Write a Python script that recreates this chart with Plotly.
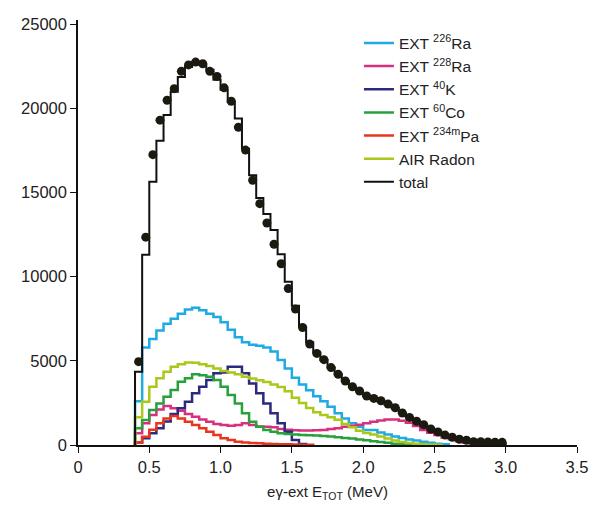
import numpy as np
import plotly.graph_objects as go

# Binning: 0.05 MeV bins starting at 0.40 MeV
bin_start = 0.40
bin_width = 0.05

total_mc = [4350, 11300, 15640, 18070, 19600, 20980, 21870, 22460, 22750, 22600,
            22300, 21700, 21100, 20400, 19400, 17600, 16030, 14680, 13720, 12770,
            11340, 9700, 8270, 7020, 6100, 5500, 5050, 4600, 4200, 3800,
            3450, 3200, 2900, 2750, 2600, 2400, 2200, 1900, 1650, 1400,
            1150, 950, 760, 590, 450, 330, 250, 180, 150, 120, 100, 80]

data_points = [4950, 12350, 17250, 19300, 20480, 21170, 22200, 22580, 22750, 22650,
               22200, 21900, 21220, 20420, 18880, 17520, 15730, 14340, 13190, 11930,
               10770, 9300, 8080, 6980, 6000, 5440, 5070, 4600, 4200, 3800,
               3460, 3210, 2910, 2770, 2630, 2430, 2210, 1900, 1640, 1410,
               1200, 950, 770, 590, 460, 340, 280, 200, 190, 180, 170, 160]

ra226 = [2600, 5800, 6300, 6800, 7200, 7500, 7800, 8050, 8150, 8000,
         7800, 7600, 7300, 6850, 6400, 6100, 5950, 5900, 5800, 5550,
         5050, 4550, 4000, 3600, 3250, 2900, 2600, 2270, 1880, 1580,
         1290, 1090, 890, 890, 750, 620, 500, 420, 330, 260,
         190, 130, 80, 40]

ra228 = [700, 1290, 1780, 2110, 2320, 2180, 2040, 1840, 1680, 1520,
         1380, 1250, 1190, 1150, 1190, 1290, 1190, 1100, 1090, 1050,
         950, 900, 870, 860, 860, 870, 890, 950, 1000, 1090,
         1150, 1200, 1290, 1380, 1450, 1520, 1520, 1440, 1320, 1130,
         890, 730, 590, 450, 340, 220, 140, 80, 40, 20]

k40 = [150, 400, 700, 1000, 1400, 1840, 2180, 2570, 3070, 3460,
       3860, 4260, 4300, 4650, 4650, 4260, 3660, 3070, 2470, 1880,
       1290, 790, 300, 60]

co60 = [1000, 1480, 2080, 2470, 2870, 3270, 3760, 3960, 4200, 4150,
        4060, 3860, 3460, 2970, 2470, 1880, 1380, 1090, 890, 790,
        700, 650, 620, 600, 580, 560, 540, 500, 460, 420,
        380, 330, 280, 230, 180, 130, 80, 40, 20]

pa234m = [150, 490, 900, 1290, 1580, 1720, 1580, 1380, 1190, 990,
          790, 590, 400, 300, 200, 150, 120, 100, 80, 60,
          50, 40, 30, 20, 10]

air_radon = [1650, 2570, 3460, 3960, 4350, 4650, 4800, 4900, 4880, 4800,
             4700, 4550, 4400, 4300, 4200, 4050, 3950, 3850, 3750, 3600,
             3450, 3200, 2800, 2500, 2200, 1950, 1780, 1650, 1500, 1250,
             1050, 850, 720, 620, 500, 380, 270, 180, 120, 80,
             50, 30, 10]

series = [
    ("EXT <sup>226</sup>Ra", ra226, "#1eaae2"),
    ("EXT <sup>228</sup>Ra", ra228, "#d6307f"),
    ("EXT <sup>40</sup>K", k40, "#2b2a7e"),
    ("EXT <sup>60</sup>Co", co60, "#28a03c"),
    ("EXT <sup>234m</sup>Pa", pa234m, "#e8351d"),
    ("AIR Radon", air_radon, "#a8c81a"),
]

x_ticks = [0, 0.5, 1.0, 1.5, 2.0, 2.5, 3.0, 3.5]
x_ticktext = ["0", "0.5", "1.0", "1.5", "2.0", "2.5", "3.0", "3.5"]
y_ticks = [0, 5000, 10000, 15000, 20000, 25000]


def step_xy(vals):
    n = len(vals)
    edges = bin_start + bin_width * np.arange(n + 1)
    xs = [edges[0]] + list(edges[:n]) + [edges[n]]
    ys = [0] + list(vals) + [0]
    return xs, ys


fig = go.Figure()
for name, vals, color in series:
    xs, ys = step_xy(vals)
    fig.add_trace(go.Scatter(x=xs, y=ys, mode="lines", name=name,
                             line=dict(color=color, width=2.5, shape="hv")))

xs, ys = step_xy(total_mc)
fig.add_trace(go.Scatter(x=xs, y=ys, mode="lines", name="total",
                         line=dict(color="#111111", width=2, shape="hv")))

centers = bin_start + bin_width * (np.arange(len(data_points)) + 0.5)
fig.add_trace(go.Scatter(x=centers, y=data_points, mode="markers", showlegend=False,
                         marker=dict(color="#1c1a10", size=9)))

axis_font = dict(family="Liberation Sans, Arial, sans-serif", size=16.5, color="#222")
fig.update_layout(
    width=600, height=522,
    margin=dict(l=78, r=21, t=20, b=77),
    paper_bgcolor="white", plot_bgcolor="white",
    showlegend=True,
    legend=dict(x=0.563, y=0.985, xanchor="left", yanchor="top",
                bgcolor="rgba(0,0,0,0)",
                font=dict(family="Liberation Sans, Arial, sans-serif",
                          size=15.5, color="#222"),
                tracegroupgap=0),
    xaxis=dict(range=[0, 3.5], tickvals=x_ticks, ticktext=x_ticktext,
               showgrid=False, zeroline=False, showline=True, linecolor="#111",
               linewidth=1.5, ticks="outside", ticklen=6, tickcolor="#111",
               tickwidth=1.3, tickfont=axis_font,
               title=dict(text="eγ-ext E<sub>TOT</sub> (MeV)",
                          font=dict(family="Liberation Sans, Arial, sans-serif",
                                    size=15, color="#222"),
                          standoff=12)),
    yaxis=dict(range=[0, 25250], tickvals=y_ticks, tickformat="d",
               showgrid=False, zeroline=False, showline=True, linecolor="#111",
               linewidth=1.5, ticks="outside", ticklen=6, tickcolor="#111",
               tickwidth=1.3, tickfont=axis_font),
)

fig.write_html("out.html")
